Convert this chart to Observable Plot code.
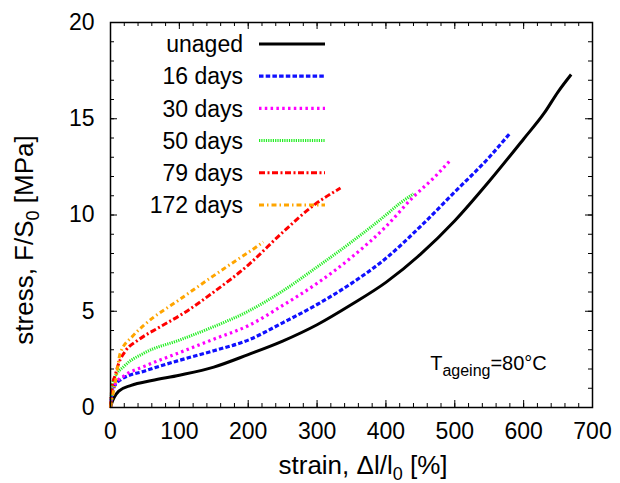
<!DOCTYPE html>
<html><head><meta charset="utf-8">
<script src="https://cdn.jsdelivr.net/npm/d3@7"></script>
<script src="https://cdn.jsdelivr.net/npm/@observablehq/plot@0.6"></script>
<style>body{margin:0;background:#fff}</style>
</head><body><div id="chart"></div>
<script>
// ---- data ----
const seriesNames = ["unaged", "16 days", "30 days", "50 days", "79 days", "172 days"];
// [strain %, stress MPa]
const unaged = [[0,0],[2,0.25],[5,0.5],[12,0.85],[30,1.15],[60,1.4],[100,1.68],[150,2.1],[200,2.75],[250,3.45],[300,4.3],[350,5.35],[400,6.5],[450,7.95],[500,9.7],[550,11.75],[600,13.95],[630,15.3],[650,16.4],[669,17.3]];
const days16 = [[0,0],[2,0.7],[5,1.05],[15,1.45],[50,1.9],[100,2.45],[150,2.95],[200,3.5],[250,4.4],[300,5.35],[350,6.45],[400,7.75],[450,9.4],[500,11.2],[550,13.0],[579,14.2]];
const days30 = [[0,0],[2,0.8],[6,1.2],[20,1.65],[50,2.15],[100,2.85],[150,3.55],[200,4.25],[250,5.3],[300,6.45],[350,7.8],[400,9.4],[440,10.95],[470,11.95],[495,12.9]];
const days50 = [[0,0],[2,1.0],[6,1.55],[20,2.15],[50,2.85],[100,3.5],[150,4.2],[200,5.0],[250,6.05],[300,7.3],[350,8.6],[400,10.0],[420,10.6],[440,11.1]];
const days79 = [[0,0],[2,1.0],[7,1.7],[12,2.3],[22,2.95],[40,3.5],[70,4.15],[104,4.85],[150,6.0],[200,7.4],[250,9.1],[295,10.5],[334,11.4]];
const days172 = [[0,0],[3,0.6],[7,1.3],[14,2.8],[32,3.7],[51,4.35],[100,5.6],[150,6.85],[185,7.7],[200,8.05],[222,8.6]];
const seriesData = [unaged, days16, days30, days50, days79, days172];
const xMajor = [0,100,200,300,400,500,600,700];
const yMajor = [0,5,10,15,20];
const xMinor = d3.range(0, 701, 20);
const yMinor = d3.range(0, 21, 1);
const annotation = {x: 465, y: 1.9, main: "T", sub: "ageing", rest: "=80°C"};

// ---- styles ----
const colors = ["#000000", "#1010ff", "#ff00ff", "#22ee22", "#ff0000", "#ffa500"];
const dashes = [null, "4.5,2.2", "2.5,3.3", "1.2,1.1", "6,2.5,2,2.5", "5,3,1.5,3"];
const widths = [3, 3.2, 3.2, 3, 3, 3];
const font = "'Liberation Sans', Arial, Helvetica, sans-serif";

const W = 620, H = 483, mL = 110, mR = 28, mT = 22, mB = 76;
const fW = W - mL - mR, fH = H - mT - mB;
const maj = 7, minr = 4;

const lineMarks = seriesData.map((d, i) => Plot.line(d, {
  x: p => p[0], y: p => p[1], stroke: colors[i], strokeWidth: widths[i],
  strokeDasharray: dashes[i] || undefined, strokeLinecap: "butt", strokeLinejoin: "round",
  curve: "monotone-x"
}));

const plot = Plot.plot({
  width: W, height: H,
  marginLeft: mL, marginRight: mR, marginTop: mT, marginBottom: mB,
  x: {domain: [0, 700]},
  y: {domain: [0, 20]},
  style: {fontFamily: font, fontSize: "23px", background: "#fff", color: "#000", overflow: "visible"},
  marks: [
    Plot.axisX({ticks: xMajor, tickSize: 0, tickPadding: 15, label: null, fontSize: 23}),
    Plot.axisY({ticks: yMajor, tickSize: 0, tickPadding: 16, label: null, fontSize: 23}),
    // ticks inward on all 4 sides
    Plot.tickX(xMinor, {x: d => d, insetTop: fH - minr, stroke: "#000", strokeWidth: 1}),
    Plot.tickX(xMinor, {x: d => d, insetBottom: fH - minr, stroke: "#000", strokeWidth: 1}),
    Plot.tickX(xMajor, {x: d => d, insetTop: fH - maj, stroke: "#000", strokeWidth: 1}),
    Plot.tickX(xMajor, {x: d => d, insetBottom: fH - maj, stroke: "#000", strokeWidth: 1}),
    Plot.tickY(yMinor, {y: d => d, insetRight: fW - minr, stroke: "#000", strokeWidth: 1}),
    Plot.tickY(yMinor, {y: d => d, insetLeft: fW - minr, stroke: "#000", strokeWidth: 1}),
    Plot.tickY(yMajor, {y: d => d, insetRight: fW - maj, stroke: "#000", strokeWidth: 1}),
    Plot.tickY(yMajor, {y: d => d, insetLeft: fW - maj, stroke: "#000", strokeWidth: 1}),
    ...lineMarks,
    Plot.frame({stroke: "#000", strokeWidth: 1.5})
  ]
});

const svg = d3.select(plot);
const xs = plot.scale("x"), ys = plot.scale("y");

// axis titles with subscripts
const yt = svg.append("text")
  .attr("transform", `translate(33,240) rotate(-90)`)
  .attr("text-anchor", "middle").attr("font-family", font).attr("font-size", 26).attr("fill", "#000");
yt.append("tspan").text("stress, F/S");
yt.append("tspan").attr("font-size", 18).attr("dy", 6).text("0");
yt.append("tspan").attr("dy", -6).text(" [MPa]");

const xt = svg.append("text")
  .attr("x", 363).attr("y", 474)
  .attr("text-anchor", "middle").attr("font-family", font).attr("font-size", 26).attr("fill", "#000");
xt.append("tspan").text("strain, Δl/l");
xt.append("tspan").attr("font-size", 18).attr("dy", 6).text("0");
xt.append("tspan").attr("dy", -6).text(" [%]");

// annotation
const at = svg.append("text")
  .attr("x", xs.apply(annotation.x)).attr("y", ys.apply(annotation.y))
  .attr("text-anchor", "start")
  .attr("font-family", font).attr("font-size", 20).attr("fill", "#000");
at.append("tspan").text(annotation.main);
at.append("tspan").attr("font-size", 16).attr("dy", 6).text(annotation.sub);
at.append("tspan").attr("dy", -6).text(annotation.rest);

// legend (key) inside plot, top-left
const lg = svg.append("g");
seriesNames.forEach((name, i) => {
  const cy = 44 + i * 32.2;
  lg.append("text").attr("x", 243).attr("y", cy).attr("dy", "0.36em")
    .attr("text-anchor", "end").attr("font-family", font).attr("font-size", 23).attr("fill", "#000").text(name);
  lg.append("line").attr("x1", 259).attr("x2", 325).attr("y1", cy).attr("y2", cy)
    .attr("stroke", colors[i]).attr("stroke-width", widths[i])
    .attr("stroke-dasharray", dashes[i]);
});

document.getElementById("chart").appendChild(plot);
</script>
</body></html>
